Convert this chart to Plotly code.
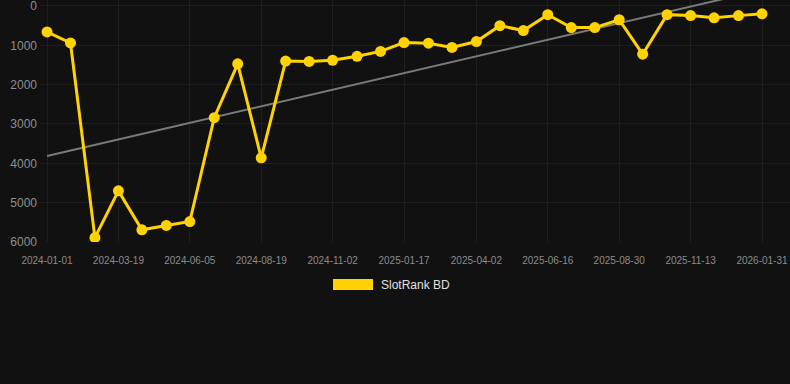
import numpy as np
import pandas as pd
import plotly.graph_objects as go

dates = ["2024-01-01", "2024-01-26", "2024-02-21", "2024-03-17", "2024-04-11", "2024-05-07",
         "2024-06-01", "2024-06-27", "2024-07-22", "2024-08-16", "2024-09-11", "2024-10-06",
         "2024-10-31", "2024-11-26", "2024-12-21", "2025-01-15", "2025-02-10", "2025-03-07",
         "2025-04-02", "2025-04-27", "2025-05-22", "2025-06-17", "2025-07-12", "2025-08-06",
         "2025-09-01", "2025-09-26", "2025-10-22", "2025-11-16", "2025-12-11", "2026-01-06",
         "2026-01-31"]
ranks = [660, 940, 5890, 4700, 5690, 5580, 5480, 2840, 1470, 3860, 1400, 1410,
         1380, 1280, 1155, 930, 945, 1055, 905, 500, 625, 220, 550, 550,
         350, 1225, 220, 245, 300, 245, 200]
tick_labels = ["2024-01-01", "2024-03-19", "2024-06-05", "2024-08-19", "2024-11-02",
               "2025-01-17", "2025-04-02", "2025-06-16", "2025-08-30", "2025-11-13", "2026-01-31"]
y_ticks = [0, 1000, 2000, 3000, 4000, 5000, 6000]
series_name = "SlotRank BD"

GOLD = "#FFD200"

# linear trend (least squares)
dt = pd.to_datetime(dates)
days = (dt - dt[0]).days.values.astype(float)
slope, intercept = np.polyfit(days, np.array(ranks, dtype=float), 1)
trend_x = [dates[0], dates[-1]]
trend_y = [intercept + slope * days[0], intercept + slope * days[-1]]

fig = go.Figure()
fig.add_trace(go.Scatter(x=trend_x, y=trend_y, mode="lines",
                         line=dict(color="#7a7a7a", width=2), showlegend=False,
                         hoverinfo="skip"))
fig.add_trace(go.Scatter(x=dates, y=ranks, mode="lines+markers", name=series_name,
                         line=dict(color=GOLD, width=3),
                         marker=dict(color=GOLD, size=11), showlegend=False))

tickvals = [dates[i] for i in range(0, len(dates), 3)]

fig.update_layout(
    width=790, height=384,
    paper_bgcolor="#111111", plot_bgcolor="#111111",
    margin=dict(l=40, r=0, t=0, b=142),
    font=dict(family="Liberation Sans, Arial, sans-serif", color="#999999"),
    xaxis=dict(type="date", range=["2023-12-24 13:12", "2026-03-01 19:12"],
               tickvals=tickvals, ticktext=tick_labels,
               tickfont=dict(size=10, color="#8c8c8c"),
               showgrid=True, gridcolor="#1f1f1f", gridwidth=1,
               zeroline=False, showline=False, ticks="", ticklabelstandoff=11),
    yaxis=dict(range=[6000, -152], tickvals=y_ticks,
               tickfont=dict(size=12, color="#8f8f8f"),
               showgrid=True, gridcolor="#1f1f1f", gridwidth=1,
               zeroline=False, showline=False, ticks="", ticklabelstandoff=2,
               ticklabeloverflow="allow"),
    shapes=[dict(type="rect", xref="paper", yref="paper",
                 x0=(333 - 40) / 750, x1=(373 - 40) / 750,
                 y0=(242 - 290) / 242, y1=(242 - 279) / 242,
                 fillcolor=GOLD, line=dict(width=0))],
    annotations=[dict(text=series_name, xref="paper", yref="paper",
                      x=(379 - 40) / 750, y=(242 - 284.5) / 242,
                      xanchor="left", yanchor="middle", showarrow=False,
                      font=dict(size=12, color="#e0e0e0"))],
)

fig.write_html("out.html")
